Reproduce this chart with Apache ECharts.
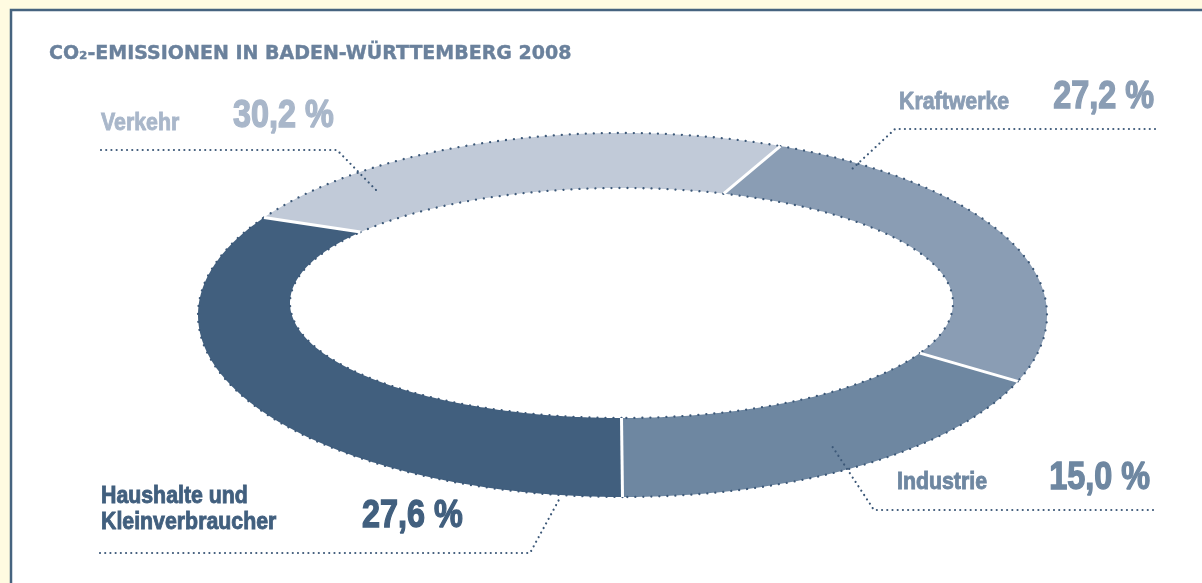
<!DOCTYPE html>
<html>
<head>
<meta charset="utf-8">
<script src="https://cdn.jsdelivr.net/npm/echarts@6/dist/echarts.min.js"></script>
<style>
html,body{margin:0;padding:0;background:#fffbe1;}
#chart{width:1202px;height:583px;}
</style>
</head>
<body>
<div id="chart"></div>
<script>
// ---- data ----
const categories = ['Haushalte und\nKleinverbraucher', 'Verkehr', 'Kraftwerke', 'Industrie'];
const shares = [27.6, 30.2, 27.2, 15.0];
const titleText = 'CO₂-EMISSIONEN IN BADEN-WÜRTTEMBERG 2008';

// ---- styles & layout ----
const sliceColors = ['#415f7e', '#c1cad8', '#8a9db4', '#6e87a1'];
const textColors  = ['#415f7e', '#a9b7ca', '#8a9db4', '#6e87a1'];
const dotColor = '#3c5878';
const ring = {
  outer: {cx: 622.5, cy: 315, rx: 424.5, ry: 182},
  inner: {cx: 621.5, cy: 303, rx: 331.5, ry: 115},
  u: 0.33, psi: -7, bend: 2.3
};
const labelLayout = [
  {label: [101, 509.5], value: [362, 516.4, 'left'],  leader: [[100, 553], [530, 553], [561, 496]]},
  {label: [101, 122.8], value: [233, 116.7, 'left'],  leader: [[101, 150], [337, 150], [378, 192]]},
  {label: [899, 102.4], value: [1154, 97.5, 'right'], leader: [[1155, 129], [895, 129], [851, 170]]},
  {label: [897, 482.4], value: [1150, 478, 'right'],  leader: [[1153, 510], [874, 510], [832, 446]]}
];
const labelFont = '"Liberation Sans", Arial, sans-serif';

// ---- perspective-like angle warp ----
const D = Math.PI / 180;
function mob(a, u) {
  const s = Math.sin(a), c = Math.cos(a), d = 1 + u * s;
  return Math.atan2((s + u) / d, c * Math.sqrt(1 - u * u) / d);
}
function warp(theta) {
  const t = ring.psi * D + mob(theta - ring.psi * D, ring.u);
  return t + ring.bend * D * Math.sin(2 * t);
}
const theta0 = ring.psi * D + mob(-Math.PI / 2 - ring.psi * D, -ring.u);
function outerPt(theta) {
  const e = ring.outer, t = warp(theta);
  return [e.cx + e.rx * Math.cos(t), e.cy - e.ry * Math.sin(t)];
}
function innerPt(theta) {
  // inner point lies on the radial line through the outer point
  const o = ring.outer, e = ring.inner, t = warp(theta);
  const ti = Math.atan2(o.ry * Math.sin(t) / e.ry, o.rx * Math.cos(t) / e.rx);
  return [e.cx + e.rx * Math.cos(ti), e.cy - e.ry * Math.sin(ti)];
}
function fmt(v) { return v.toFixed(1).replace('.', ',') + ' %'; }

function renderItem(params, api) {
  const i = params.dataIndex;
  const n = params.dataInsideLength;
  let total = 0, cum = 0;
  for (let k = 0; k < n; k++) {
    const vk = api.value(0, k);
    total += vk;
    if (k < params.dataIndexInside) cum += vk;
  }
  const v = api.value(0);
  const a0 = theta0 - 2 * Math.PI * cum / total;
  const a1 = theta0 - 2 * Math.PI * (cum + v) / total;
  const steps = Math.max(4, Math.ceil(Math.abs(a1 - a0) / D * 2));
  const outerPts = [], innerPts = [];
  for (let k = 0; k <= steps; k++) {
    const a = a0 + (a1 - a0) * k / steps;
    outerPts.push(outerPt(a));
    innerPts.push(innerPt(a));
  }
  const poly = outerPts.concat(innerPts.slice().reverse());
  const lay = labelLayout[i];
  const dotted = {stroke: dotColor, lineWidth: 2.3, lineDash: [0.01, 8], lineCap: 'round', fill: null};
  return {
    type: 'group',
    children: [
      {type: 'polygon', shape: {points: poly}, style: {fill: sliceColors[i]}, z2: 1},
      {type: 'polyline', shape: {points: outerPts}, style: dotted, z2: 2},
      {type: 'polyline', shape: {points: innerPts}, style: dotted, z2: 2},
      {type: 'line', shape: {x1: outerPts[0][0], y1: outerPts[0][1], x2: innerPts[0][0], y2: innerPts[0][1]},
        style: {stroke: '#ffffff', lineWidth: 3}, z2: 10},
      {type: 'polyline', shape: {points: lay.leader},
        style: {stroke: dotColor, lineWidth: 2.2, lineDash: [0.01, 5.2], lineCap: 'round', fill: null}, z2: 20},
      {type: 'text', x: lay.label[0], y: lay.label[1], scaleX: 0.87, z2: 30,
        style: {text: categories[i], x: 0, y: 0, fill: textColors[i], stroke: textColors[i], lineWidth: 0.9,
          font: 'bold 24.5px ' + labelFont, align: 'left', verticalAlign: 'middle', lineHeight: 26}},
      {type: 'text', x: lay.value[0], y: lay.value[1], scaleX: 0.83, z2: 30,
        style: {text: fmt(v), x: 0, y: 0, fill: textColors[i], stroke: textColors[i], lineWidth: 1.4,
          font: 'bold 39px ' + labelFont, align: lay.value[2], verticalAlign: 'middle'}}
    ]
  };
}

const chart = echarts.init(document.getElementById('chart'), null, {renderer: 'canvas'});
chart.setOption({
  animation: false,
  backgroundColor: '#fffbe1',
  graphic: [
    {type: 'rect', z: -10, shape: {x: 11, y: 10, width: 1300, height: 700},
      style: {fill: '#ffffff', stroke: '#46637f', lineWidth: 2.5}},
    {type: 'text', z: 10, x: 49, y: 54.5,
      style: {text: titleText, fill: '#6a819c', stroke: '#6a819c', lineWidth: 0.4,
        font: 'bold 19px "DejaVu Sans", sans-serif', verticalAlign: 'middle', align: 'left'}}
  ],
  series: [{
    type: 'custom',
    coordinateSystem: 'none',
    silent: true,
    renderItem: renderItem,
    data: shares.map((v, i) => ({name: categories[i], value: [v]}))
  }]
});
</script>
</body>
</html>
